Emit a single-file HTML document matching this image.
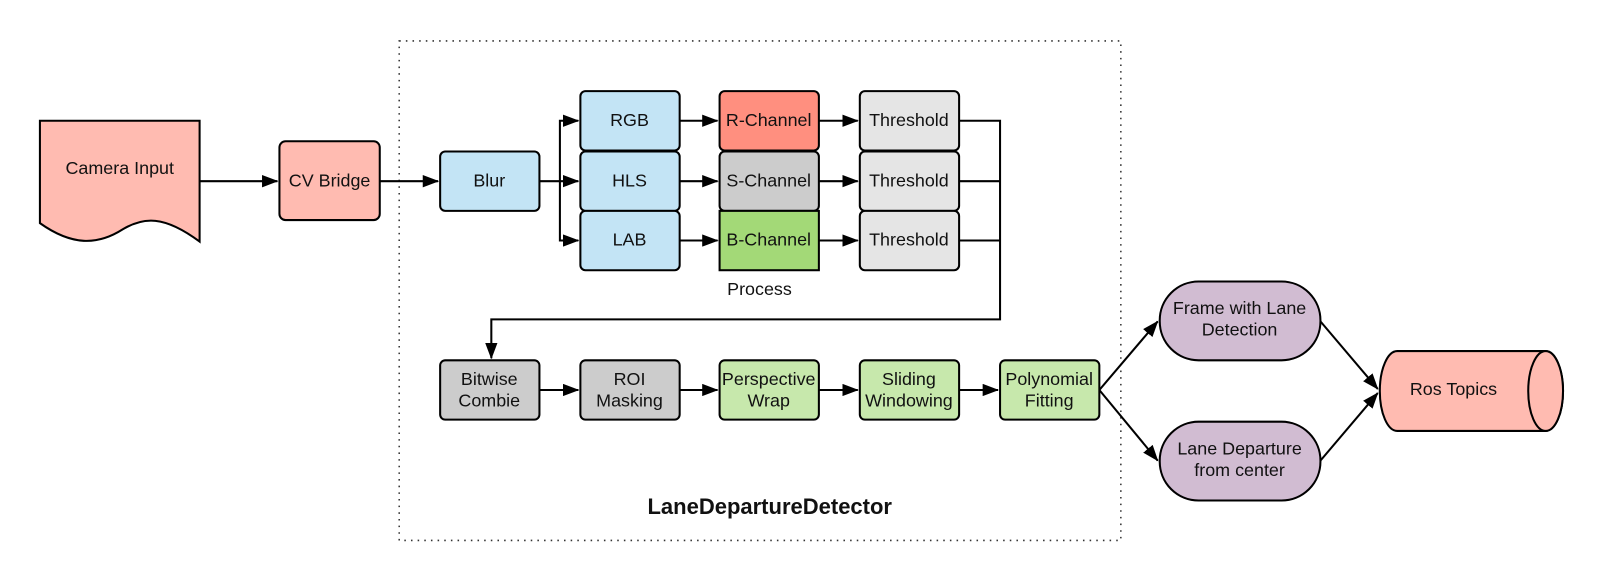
<!DOCTYPE html>
<html><head><meta charset="utf-8"><style>body{margin:0;background:#fff}svg{display:block}text{font-family:"Liberation Sans",sans-serif;font-size:17.5px;fill:#111}</style></head><body>
<svg width="1605" height="582" viewBox="0 0 1568 568.6" preserveAspectRatio="none" xmlns="http://www.w3.org/2000/svg">
<defs><marker id="a" markerWidth="16" markerHeight="12" refX="15" refY="6" orient="auto" markerUnits="userSpaceOnUse"><path d="M0,0 L16,6 L0,12 z" fill="#000"/></marker></defs>
<rect x="390" y="40" width="705" height="488" fill="none" stroke="#333" stroke-width="1.5" stroke-dasharray="1.5,5"/>
<g stroke="#000" stroke-width="2">
<path d="M39,118 H195 V236 C160,210 140,212 120,224 C95,240 70,240 39,218 Z" fill="#ffbbb1"/>
<rect x="273" y="138" width="98" height="77" rx="6" fill="#ffbbb1"/>
<rect x="430" y="148" width="97" height="58" rx="5" fill="#c3e4f5"/>
<rect x="567" y="89" width="97" height="58" rx="5" fill="#c3e4f5"/>
<rect x="567" y="148" width="97" height="58" rx="5" fill="#c3e4f5"/>
<rect x="567" y="206" width="97" height="58" rx="5" fill="#c3e4f5"/>
<rect x="703" y="89" width="97" height="58" rx="5" fill="#ff8f7f"/>
<rect x="703" y="148" width="97" height="58" rx="5" fill="#cccccc"/>
<rect x="703" y="206" width="97" height="58" rx="0" fill="#a3d977"/>
<rect x="840" y="89" width="97" height="58" rx="5" fill="#e5e5e5"/>
<rect x="840" y="148" width="97" height="58" rx="5" fill="#e5e5e5"/>
<rect x="840" y="206" width="97" height="58" rx="5" fill="#e5e5e5"/>
<rect x="430" y="352" width="97" height="58" rx="5" fill="#cccccc"/>
<rect x="567" y="352" width="97" height="58" rx="5" fill="#cccccc"/>
<rect x="703" y="352" width="97" height="58" rx="5" fill="#c7e8ac"/>
<rect x="840" y="352" width="97" height="58" rx="5" fill="#c7e8ac"/>
<rect x="977" y="352" width="97" height="58" rx="5" fill="#c7e8ac"/>
<rect x="1133" y="275" width="157" height="77" rx="38" fill="#d1bcd2"/>
<rect x="1133" y="412" width="157" height="77" rx="38" fill="#d1bcd2"/>
<path d="M1365,343 H1510 A17,39 0 0 1 1510,421 H1365 A17,39 0 0 1 1365,343 Z" fill="#ffbbb1"/>
<ellipse cx="1510" cy="382" rx="17" ry="39" fill="#ffbbb1"/>
<g fill="none">
<path d="M195,177 H271" marker-end="url(#a)"/>
<path d="M371,177 H428" marker-end="url(#a)"/>
<path d="M527,177 H565" marker-end="url(#a)"/>
<path d="M547,177 V118 H565" marker-end="url(#a)"/>
<path d="M547,177 V235 H565" marker-end="url(#a)"/>
<path d="M664,118 H701" marker-end="url(#a)"/>
<path d="M664,177 H701" marker-end="url(#a)"/>
<path d="M664,235 H701" marker-end="url(#a)"/>
<path d="M800,118 H838" marker-end="url(#a)"/>
<path d="M800,177 H838" marker-end="url(#a)"/>
<path d="M800,235 H838" marker-end="url(#a)"/>
<path d="M937,118 H977 V312 H480 V350" marker-end="url(#a)"/>
<path d="M937,177 H977 M937,235 H977"/>
<path d="M527,381 H565" marker-end="url(#a)"/>
<path d="M664,381 H701" marker-end="url(#a)"/>
<path d="M800,381 H838" marker-end="url(#a)"/>
<path d="M937,381 H975" marker-end="url(#a)"/>
<path d="M1074,381 L1131,314" marker-end="url(#a)"/>
<path d="M1074,381 L1131,450" marker-end="url(#a)"/>
<path d="M1290,314 L1346,380" marker-end="url(#a)"/>
<path d="M1290,450 L1346,384" marker-end="url(#a)"/>
</g></g>
<g text-anchor="middle">
<text x="117" y="170">Camera Input</text>
<text x="322" y="182">CV Bridge</text>
<text x="478" y="182">Blur</text>
<text x="615" y="123">RGB</text><text x="615" y="182">HLS</text><text x="615" y="240">LAB</text>
<text x="751" y="123">R-Channel</text><text x="751" y="182">S-Channel</text><text x="751" y="240">B-Channel</text>
<text x="888" y="123">Threshold</text><text x="888" y="182">Threshold</text><text x="888" y="240">Threshold</text>
<text x="742" y="288">Process</text>
<text x="478" y="376">Bitwise</text><text x="478" y="397">Combie</text>
<text x="615" y="376">ROI</text><text x="615" y="397">Masking</text>
<text x="751" y="376">Perspective</text><text x="751" y="397">Wrap</text>
<text x="888" y="376">Sliding</text><text x="888" y="397">Windowing</text>
<text x="1025" y="376">Polynomial</text><text x="1025" y="397">Fitting</text>
<text x="1211" y="307">Frame with Lane</text><text x="1211" y="328">Detection</text>
<text x="1211" y="444">Lane Departure</text><text x="1211" y="465">from center</text>
<text x="1420" y="386">Ros Topics</text>
<text x="752" y="502" style="font-weight:bold;font-size:21.5px">LaneDepartureDetector</text>
</g>
</svg>
</body></html>
